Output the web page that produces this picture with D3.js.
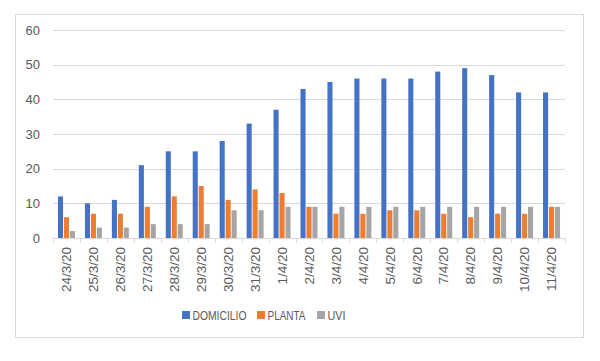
<!DOCTYPE html>
<html>
<head>
<meta charset="utf-8">
<script src="https://cdn.jsdelivr.net/npm/d3@7"></script>
<style>
  body { margin: 0; background: #fff; }
  text { font-family: "Liberation Sans", Arial, sans-serif; fill: #595959; }
</style>
</head>
<body>
<div id="chart"></div>
<script>
// data
var dates = ["24/3/20","25/3/20","26/3/20","27/3/20","28/3/20","29/3/20","30/3/20","31/3/20",
             "1/4/20","2/4/20","3/4/20","4/4/20","5/4/20","6/4/20","7/4/20","8/4/20","9/4/20","10/4/20","11/4/20"];
var series = ["DOMICILIO", "PLANTA", "UVI"];
var domicilio = [12,10,11,21,25,25,28,33,37,43,45,46,46,46,48,49,47,42,42];
var planta    = [6,7,7,9,12,15,11,14,13,9,7,7,8,8,7,6,7,7,9];
var uvi       = [2,3,3,4,4,4,8,8,9,9,9,9,9,9,9,9,9,9,9];
var yTicks = [0,10,20,30,40,50,60];
var colors = ["#4472C4", "#ED7D31", "#A5A5A5"];

var rows = dates.map(function(d, i) {
  return {date: d, values: [domicilio[i], planta[i], uvi[i]]};
});

var width = 600, height = 361;
var margin = {top: 30, right: 35, bottom: 123, left: 53};
var plotW = width - margin.left - margin.right,
    plotH = height - margin.top - margin.bottom;

var svg = d3.select("#chart").append("svg")
    .attr("width", width)
    .attr("height", height);

// chart area border
svg.append("rect")
    .attr("x", 15.5).attr("y", 14.5)
    .attr("width", 568).attr("height", 323)
    .attr("fill", "#fff")
    .attr("stroke", "#D9D9D9");

var g = svg.append("g")
    .attr("transform", "translate(" + margin.left + "," + margin.top + ")");

var x0 = d3.scaleBand().domain(dates).range([0, plotW]).padding(0);
var groupW = 17;
var x1 = d3.scaleBand().domain(series)
    .range([(x0.bandwidth() - groupW) / 2, (x0.bandwidth() + groupW) / 2])
    .paddingInner(0.15);
var y = d3.scaleLinear().domain([0, 60]).range([plotH, 0]);

// gridlines
g.selectAll(".grid")
  .data(yTicks.slice(1))
  .enter().append("line")
    .attr("x1", 0).attr("x2", plotW)
    .attr("y1", function(d) { return Math.round(y(d)) + 0.5; })
    .attr("y2", function(d) { return Math.round(y(d)) + 0.5; })
    .attr("stroke", "#D9D9D9");

// y axis labels
g.selectAll(".ylab")
  .data(yTicks)
  .enter().append("text")
    .attr("x", -13)
    .attr("y", function(d) { return y(d); })
    .attr("dy", "0.35em")
    .attr("text-anchor", "end")
    .style("font-size", "13px")
    .text(function(d) { return d; });

// bars
var groups = g.selectAll(".grp")
  .data(rows)
  .enter().append("g")
    .attr("transform", function(d) { return "translate(" + x0(d.date) + ",0)"; });

groups.selectAll("rect")
  .data(function(d) { return d.values.map(function(v, i) { return {s: series[i], v: v, i: i}; }); })
  .enter().append("rect")
    .attr("x", function(d) { return x1(d.s); })
    .attr("width", x1.bandwidth())
    .attr("y", function(d) { return y(d.v); })
    .attr("height", function(d) { return plotH - y(d.v); })
    .attr("fill", function(d) { return colors[d.i]; });

// x axis line and tick marks
var xAxis = g.append("g").attr("transform", "translate(0," + plotH + ")");
xAxis.append("line")
    .attr("x1", 0).attr("x2", plotW)
    .attr("y1", 0.5).attr("y2", 0.5)
    .attr("stroke", "#D9D9D9");
xAxis.selectAll(".tk")
  .data(d3.range(dates.length + 1))
  .enter().append("line")
    .attr("x1", function(i) { return Math.round(i * x0.step()) + 0.5; })
    .attr("x2", function(i) { return Math.round(i * x0.step()) + 0.5; })
    .attr("y1", 0).attr("y2", 5)
    .attr("stroke", "#D9D9D9");
xAxis.selectAll(".xlab")
  .data(dates)
  .enter().append("text")
    .attr("transform", function(d) {
      return "translate(" + (x0(d) + x0.bandwidth() / 2) + ",9) rotate(-90)";
    })
    .attr("dy", "0.35em")
    .attr("text-anchor", "end")
    .style("font-size", "13.5px")
    .text(function(d) { return d; });

// legend
var legendX = [182, 257, 317];
var legendW = [54, 38, 18];
var legend = svg.selectAll(".leg")
  .data(series)
  .enter().append("g")
    .attr("transform", function(d, i) { return "translate(" + legendX[i] + ",311)"; });
legend.append("rect")
    .attr("width", 8).attr("height", 8)
    .attr("fill", function(d, i) { return colors[i]; });
legend.append("text")
    .attr("x", 10.5).attr("y", 4)
    .attr("dy", "0.35em")
    .attr("textLength", function(d, i) { return legendW[i]; })
    .attr("lengthAdjust", "spacingAndGlyphs")
    .style("font-size", "13.5px")
    .text(function(d) { return d; });
</script>
</body>
</html>
